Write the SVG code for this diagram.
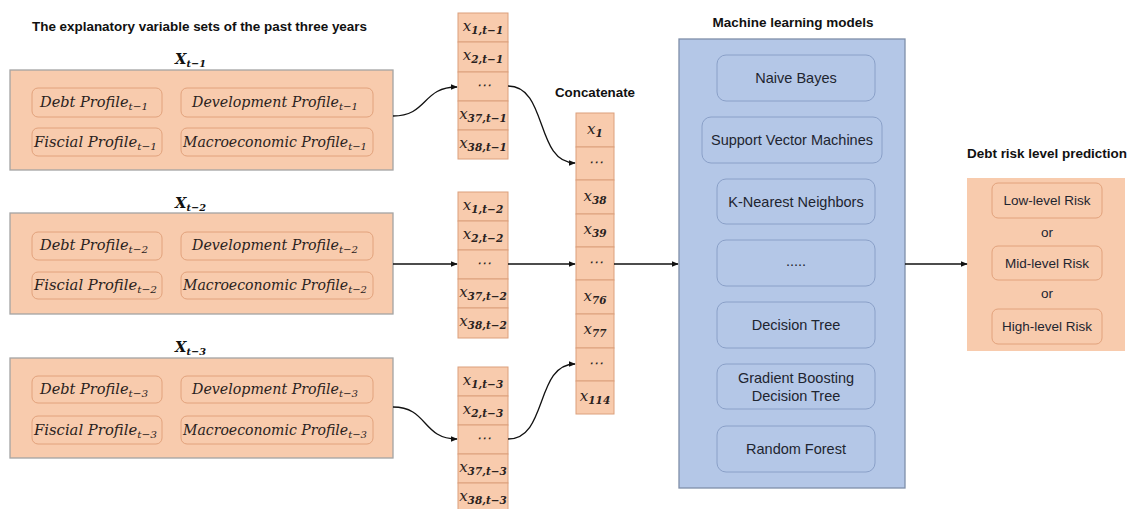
<svg xmlns="http://www.w3.org/2000/svg" width="1131" height="509" viewBox="0 0 1131 509">
<defs>
<marker id="ah" viewBox="0 0 10 10" refX="9" refY="5" markerWidth="7" markerHeight="7" markerUnits="userSpaceOnUse" orient="auto"><path d="M0,1 L10,5 L0,9 z" fill="#111"/></marker>
<style>
.bg{fill:#f8cbad;stroke:#a4a4a4;stroke-width:1.3}
.in{fill:#f8cbad;stroke:#e2a27c;stroke-width:1}
.cell{fill:#f8cbad;stroke:#dca07d;stroke-width:1}
.ml{fill:#b4c7e7;stroke:#7f8fa9;stroke-width:1.3}
.mli{fill:#b4c7e7;stroke:#8aa0c8;stroke-width:1}
.t{font-family:"Liberation Sans",Arial,sans-serif;font-weight:bold;fill:#111;font-size:12.5px}
.s{font-family:"Liberation Sans",Arial,sans-serif;fill:#1e2530;font-size:14.5px;text-anchor:middle}
.o{font-family:"Liberation Sans",Arial,sans-serif;fill:#1e2530;font-size:13.5px;text-anchor:middle}
.m{font-family:"DejaVu Serif","Liberation Serif",serif;font-style:italic;fill:#2a2220;font-size:14px}
.sub{font-size:10px}
.v{font-family:"DejaVu Serif","Liberation Serif",serif;font-style:italic;fill:#2a2220;font-size:15px;text-anchor:middle}
.vs{font-size:10.5px;font-weight:bold}
.X{font-family:"DejaVu Serif","Liberation Serif",serif;font-style:italic;font-weight:bold;fill:#111;font-size:15px}
.c{fill:none;stroke:#111;stroke-width:1.3;marker-end:url(#ah)}
</style>
</defs>
<rect width="1131" height="509" fill="#fff"/>
<text class="t" x="32" y="31" textLength="335" lengthAdjust="spacingAndGlyphs">The explanatory variable sets of the past three years</text>

<g id="X1">
<text class="X" x="175" y="64" textLength="31" lengthAdjust="spacingAndGlyphs">X<tspan class="sub" dy="3">t−1</tspan></text>
<rect class="bg" x="10" y="70" width="383" height="100"/>
<rect class="in" x="32" y="88" width="130" height="29" rx="6"/>
<rect class="in" x="181" y="88" width="192" height="29" rx="6"/>
<rect class="in" x="32" y="128" width="130" height="28" rx="6"/>
<rect class="in" x="181" y="128" width="192" height="28" rx="6"/>
<text class="m" x="40" y="107" textLength="108" lengthAdjust="spacingAndGlyphs">Debt Profile<tspan class="sub" dy="3">t−1</tspan></text>
<text class="m" x="192" y="107" textLength="166" lengthAdjust="spacingAndGlyphs">Development Profile<tspan class="sub" dy="3">t−1</tspan></text>
<text class="m" x="34" y="147" textLength="123" lengthAdjust="spacingAndGlyphs">Fiscial Profile<tspan class="sub" dy="3">t−1</tspan></text>
<text class="m" x="183" y="147" textLength="184" lengthAdjust="spacingAndGlyphs">Macroeconomic Profile<tspan class="sub" dy="3">t−1</tspan></text>
</g>

<g id="X2">
<text class="X" x="175" y="208" textLength="31" lengthAdjust="spacingAndGlyphs">X<tspan class="sub" dy="3">t−2</tspan></text>
<rect class="bg" x="10" y="213" width="383" height="101"/>
<rect class="in" x="32" y="232" width="130" height="28" rx="6"/>
<rect class="in" x="181" y="232" width="192" height="28" rx="6"/>
<rect class="in" x="32" y="272" width="130" height="27" rx="6"/>
<rect class="in" x="181" y="272" width="192" height="27" rx="6"/>
<text class="m" x="40" y="250" textLength="108" lengthAdjust="spacingAndGlyphs">Debt Profile<tspan class="sub" dy="3">t−2</tspan></text>
<text class="m" x="192" y="250" textLength="166" lengthAdjust="spacingAndGlyphs">Development Profile<tspan class="sub" dy="3">t−2</tspan></text>
<text class="m" x="34" y="290" textLength="123" lengthAdjust="spacingAndGlyphs">Fiscial Profile<tspan class="sub" dy="3">t−2</tspan></text>
<text class="m" x="183" y="290" textLength="184" lengthAdjust="spacingAndGlyphs">Macroeconomic Profile<tspan class="sub" dy="3">t−2</tspan></text>
</g>

<g id="X3">
<text class="X" x="175" y="352" textLength="31" lengthAdjust="spacingAndGlyphs">X<tspan class="sub" dy="3">t−3</tspan></text>
<rect class="bg" x="10" y="358" width="383" height="100"/>
<rect class="in" x="32" y="376" width="130" height="27" rx="6"/>
<rect class="in" x="181" y="376" width="192" height="27" rx="6"/>
<rect class="in" x="32" y="416" width="130" height="28" rx="6"/>
<rect class="in" x="181" y="416" width="192" height="28" rx="6"/>
<text class="m" x="40" y="394" textLength="108" lengthAdjust="spacingAndGlyphs">Debt Profile<tspan class="sub" dy="3">t−3</tspan></text>
<text class="m" x="192" y="394" textLength="166" lengthAdjust="spacingAndGlyphs">Development Profile<tspan class="sub" dy="3">t−3</tspan></text>
<text class="m" x="34" y="435" textLength="123" lengthAdjust="spacingAndGlyphs">Fiscial Profile<tspan class="sub" dy="3">t−3</tspan></text>
<text class="m" x="183" y="435" textLength="184" lengthAdjust="spacingAndGlyphs">Macroeconomic Profile<tspan class="sub" dy="3">t−3</tspan></text>
</g>

<g id="V1">
<rect class="cell" x="458" y="13" width="50" height="29"/>
<rect class="cell" x="458" y="42" width="50" height="30"/>
<rect class="cell" x="458" y="72" width="50" height="29"/>
<rect class="cell" x="458" y="101" width="50" height="29"/>
<rect class="cell" x="458" y="130" width="50" height="29"/>
<text class="v" x="483" y="31">x<tspan class="vs" dy="3">1,t−1</tspan></text>
<text class="v" x="483" y="60">x<tspan class="vs" dy="3">2,t−1</tspan></text>
<text class="v" x="483" y="90">⋯</text>
<text class="v" x="483" y="119">x<tspan class="vs" dy="3">37,t−1</tspan></text>
<text class="v" x="483" y="148">x<tspan class="vs" dy="3">38,t−1</tspan></text>
</g>

<g id="V2">
<rect class="cell" x="458" y="192" width="50" height="29"/>
<rect class="cell" x="458" y="221" width="50" height="29"/>
<rect class="cell" x="458" y="250" width="50" height="29"/>
<rect class="cell" x="458" y="279" width="50" height="29"/>
<rect class="cell" x="458" y="308" width="50" height="30"/>
<text class="v" x="483" y="210">x<tspan class="vs" dy="3">1,t−2</tspan></text>
<text class="v" x="483" y="239">x<tspan class="vs" dy="3">2,t−2</tspan></text>
<text class="v" x="483" y="268">⋯</text>
<text class="v" x="483" y="297">x<tspan class="vs" dy="3">37,t−2</tspan></text>
<text class="v" x="483" y="326">x<tspan class="vs" dy="3">38,t−2</tspan></text>
</g>

<g id="V3">
<rect class="cell" x="458" y="367" width="50" height="29"/>
<rect class="cell" x="458" y="396" width="50" height="29"/>
<rect class="cell" x="458" y="425" width="50" height="29"/>
<rect class="cell" x="458" y="454" width="50" height="29"/>
<rect class="cell" x="458" y="483" width="50" height="29"/>
<text class="v" x="483" y="385">x<tspan class="vs" dy="3">1,t−3</tspan></text>
<text class="v" x="483" y="414">x<tspan class="vs" dy="3">2,t−3</tspan></text>
<text class="v" x="483" y="443">⋯</text>
<text class="v" x="483" y="472">x<tspan class="vs" dy="3">37,t−3</tspan></text>
<text class="v" x="483" y="501">x<tspan class="vs" dy="3">38,t−3</tspan></text>
</g>

<g id="concat">
<text class="t" x="595" y="97" text-anchor="middle" textLength="80" lengthAdjust="spacingAndGlyphs">Concatenate</text>
<rect class="cell" x="576" y="113" width="38" height="34"/>
<rect class="cell" x="576" y="147" width="38" height="33"/>
<rect class="cell" x="576" y="180" width="38" height="34"/>
<rect class="cell" x="576" y="214" width="38" height="33"/>
<rect class="cell" x="576" y="247" width="38" height="33"/>
<rect class="cell" x="576" y="280" width="38" height="34"/>
<rect class="cell" x="576" y="314" width="38" height="34"/>
<rect class="cell" x="576" y="348" width="38" height="33"/>
<rect class="cell" x="576" y="381" width="38" height="33"/>
<text class="v" x="595" y="134">x<tspan class="vs" dy="3">1</tspan></text>
<text class="v" x="595" y="167">⋯</text>
<text class="v" x="595" y="201">x<tspan class="vs" dy="3">38</tspan></text>
<text class="v" x="595" y="234">x<tspan class="vs" dy="3">39</tspan></text>
<text class="v" x="595" y="267">⋯</text>
<text class="v" x="595" y="301">x<tspan class="vs" dy="3">76</tspan></text>
<text class="v" x="595" y="334">x<tspan class="vs" dy="3">77</tspan></text>
<text class="v" x="595" y="368">⋯</text>
<text class="v" x="595" y="401">x<tspan class="vs" dy="3">114</tspan></text>
</g>

<g id="models">
<text class="t" x="793" y="27" text-anchor="middle" textLength="161" lengthAdjust="spacingAndGlyphs">Machine learning models</text>
<rect class="ml" x="679" y="39" width="226" height="449"/>
<rect class="mli" x="717" y="55" width="158" height="46" rx="9"/>
<rect class="mli" x="702" y="117" width="180" height="46" rx="9"/>
<rect class="mli" x="717" y="179" width="158" height="45" rx="9"/>
<rect class="mli" x="717" y="240" width="158" height="46" rx="9"/>
<rect class="mli" x="717" y="302" width="158" height="46" rx="9"/>
<rect class="mli" x="717" y="364" width="158" height="45" rx="9"/>
<rect class="mli" x="717" y="426" width="158" height="46" rx="9"/>
<text class="s" x="796" y="83">Naive Bayes</text>
<text class="s" x="792" y="145">Support Vector Machines</text>
<text class="s" x="796" y="207">K-Nearest Neighbors</text>
<text class="s" x="796" y="266" font-size="11">.....</text>
<text class="s" x="796" y="330">Decision Tree</text>
<text class="s" x="796" y="383">Gradient Boosting</text>
<text class="s" x="796" y="401">Decision Tree</text>
<text class="s" x="796" y="454">Random Forest</text>
</g>

<g id="output">
<text class="t" x="1047" y="158" text-anchor="middle" textLength="160" lengthAdjust="spacingAndGlyphs">Debt risk level prediction</text>
<rect x="967" y="178" width="158" height="173" fill="#f8cbad" stroke="none"/>
<rect class="in" x="992" y="183" width="110" height="35" rx="6"/>
<rect class="in" x="992" y="246" width="110" height="34" rx="6"/>
<rect class="in" x="992" y="309" width="110" height="35" rx="6"/>
<text class="o" x="1047" y="205">Low-level Risk</text>
<text class="o" x="1047" y="237">or</text>
<text class="o" x="1047" y="268">Mid-level Risk</text>
<text class="o" x="1047" y="298">or</text>
<text class="o" x="1047" y="331">High-level Risk</text>
</g>

<g id="connectors">
<path class="c" d="M393,116 C428,116 422,87 457,87"/>
<path class="c" d="M508,86 C548,86 535,163 575,163"/>
<path class="c" d="M393,264 L457,264"/>
<path class="c" d="M508,264 L575,264"/>
<path class="c" d="M614,264 L678,264"/>
<path class="c" d="M393,407 C428,407 422,439 457,439"/>
<path class="c" d="M508,439 C548,439 535,364 575,364"/>
<path class="c" d="M905,264 L967,264"/>
</g>
</svg>
